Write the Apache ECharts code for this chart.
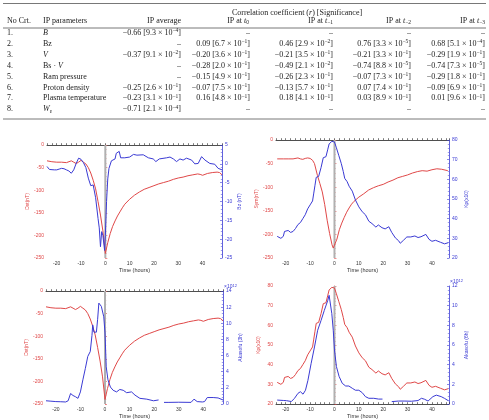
<!DOCTYPE html>
<html><head><meta charset="utf-8">
<script src="https://cdn.jsdelivr.net/npm/echarts@6/dist/echarts.min.js"></script>
<style>html,body{margin:0;padding:0;background:#fff}#c{width:489px;height:420px}</style>
</head><body><div id="c"></div>
<script>
// ---------- table data ----------
const rowNo = ['1.', '2.', '3.', '4.', '5.', '6.', '7.', '8.'];
const ipParams = ['{it|B}', 'Bz', '{it|V}', 'Bs · {it|V}', 'Ram pressure', 'Proton density', 'Plasma temperature', '{it|W}{sub|ε}'];
const rAvg = [-0.66, null, -0.37, null, null, -0.25, -0.23, -0.71];
const pAvg = [9.3e-4, null, 9.1e-2, null, null, 2.6e-1, 3.1e-1, 2.1e-4];
const rT0 = [null, 0.09, -0.20, -0.28, -0.15, -0.07, 0.16, null];
const pT0 = [null, 6.7e-1, 3.6e-1, 2.0e-1, 4.9e-1, 7.5e-1, 4.8e-1, null];
const rT1 = [null, 0.46, -0.21, -0.49, -0.26, -0.13, 0.18, null];
const pT1 = [null, 2.9e-2, 3.5e-1, 2.1e-2, 2.3e-1, 5.7e-1, 4.1e-1, null];
const rT2 = [null, 0.76, -0.21, -0.74, -0.07, 0.07, 0.03, null];
const pT2 = [null, 3.3e-5, 3.3e-1, 8.8e-5, 7.3e-1, 7.4e-1, 8.9e-1, null];
const rT3 = [null, 0.68, -0.29, -0.74, -0.29, -0.09, 0.01, null];
const pT3 = [null, 5.1e-4, 1.9e-1, 7.3e-5, 1.8e-1, 6.9e-1, 9.6e-1, null];

// ---------- chart data [time (hours), value] ----------
const eventTime = 0;
const dst = [[-24,-35],[-22,-37],[-20,-38],[-18,-38],[-16,-39],[-14,-35],[-13,-38],[-12,-41],[-11,-38],[-10,-34],[-9,-38],[-8,-42],[-7,-50],[-6,-62],[-5,-78],[-4,-97],[-3,-125],[-2,-155],[-1,-190],[0,-240],[1,-216],[2,-196],[3,-180],[4,-168],[5,-157],[6,-148],[7,-139],[8,-131],[10,-120],[12,-111],[14,-104],[16,-98],[18,-94],[20,-90],[22,-86],[24,-83],[26,-80],[28,-76],[30,-73],[32,-71],[34,-68],[36,-66],[38,-64],[39,-65],[40,-67],[42,-63],[44,-61],[46,-60],[47,-61],[48,-66]];
const bz = [[-24,-0.7],[-23,-1.5],[-21,-1.6],[-20,-1.6],[-19,-1.4],[-18,-1.2],[-17,-1.3],[-16,-1.6],[-15,-1.9],[-14,-2.5],[-13,-1.6],[-12,0.1],[-11,1.5],[-10,1.2],[-9,0.3],[-8,-1.0],[-7,-3.8],[-6,-5.8],[-5,-5.6],[-4,-9.0],[-3,-14.5],[-2.5,-17],[-2,-22],[-1.5,-18],[-1,-19],[-0.3,-23],[0,-19],[0.5,-10],[1,-4],[1.5,-1.2],[2,-1.0],[2.5,0.8],[4,1.3],[4.5,2.8],[5,3.3],[5.7,3.3],[6.3,1.6],[8,1.6],[10,1.8],[11.6,2.5],[13,2.3],[15.6,2.4],[17.7,1.6],[19.7,1.3],[20.8,0.6],[22.2,1.3],[25.2,1.6],[26.6,1.8],[28,1.3],[29.3,0.6],[30.7,1.3],[32,1.0],[33.4,1.5],[35.5,1.0],[36.8,0],[38.2,0.1],[39.6,1.9],[41,1.0],[43,0.1],[45,-0.1],[46.4,-1.2],[48,-1.6]];
const sym = [[-23.5,-40],[-21,-40],[-19,-40],[-17,-40],[-15,-38],[-14,-40],[-13,-41],[-12,-39],[-11,-38],[-10,-39],[-9,-43],[-8.2,-50],[-7,-75],[-6,-92],[-5,-110],[-4,-137],[-3,-170],[-2,-198],[-1,-222],[-0.5,-229],[0,-226],[1,-210],[2,-190],[3,-176],[4,-164],[5,-153],[6,-144],[7,-136],[8,-130],[10,-121],[12,-114],[14,-106],[16,-101],[18,-97],[20,-94],[22,-89],[24,-85],[26,-80],[28,-77],[30,-74],[32,-70],[34,-67],[36,-65],[38,-66],[40,-63],[42,-61],[44,-62],[46.5,-65]];
const kp = [[-23.5,31],[-23,30],[-22,30],[-21,31],[-20.5,33.5],[-20,33],[-19,34],[-18,33],[-17,33.5],[-16,35],[-15,37],[-14,38],[-13,40],[-12,42],[-11,45],[-10,47],[-9,49],[-8.5,53],[-8,57],[-7.5,61],[-6.5,61.5],[-5.5,66],[-4.6,71],[-3.5,71.5],[-2.8,75],[-2.2,78],[-1.1,79.3],[0,79],[0.8,76],[1.8,72],[2.8,68],[3.6,64],[4.2,60.5],[5.2,58.8],[6,56.5],[7.3,54],[8.6,49.5],[10,46],[11.4,43.5],[12.7,42],[14.1,38.7],[15.4,37.5],[17,35.7],[18,36.8],[19.5,35.4],[20.8,34.8],[22.3,35.9],[23.5,33],[25,30.2],[26.3,28.8],[27,27.5],[28.3,29],[29.7,30.7],[31.3,30.7],[33,31.2],[34.3,30.4],[35.5,30.8],[37.5,32],[38.8,29.5],[40,28.5],[41.5,29],[43.5,28],[45.2,27.2],[46.7,27.8]];
const eps3h = [[-24,0.4],[-22,0.35],[-20,0.3],[-18,0.28],[-16,0.25],[-15,0.4],[-14,1.3],[-13,1.05],[-12,0.9],[-11,0.7],[-10,1.5],[-9,3.0],[-8,4.4],[-7,5.9],[-6,6.5],[-5.3,8.5],[-5,9.8],[-4.5,8.9],[-3.5,8.9],[-3,10.5],[-2.5,12.5],[-1.5,12.1],[-0.5,10.8],[0,8.8],[0.5,4.6],[1.2,3.0],[2.2,2.1],[3.3,1.7],[4.7,1.5],[6,1.8],[7.4,1.7],[8.8,1.4],[10.8,1.5],[12.2,1.1],[14.2,0.7],[17,0.6],[19.7,0.4],[21.8,0.5],[23,null],[24,0.2],[26,0.2],[30,0.22],[35,0.2],[36.2,0.6],[37.5,0.3],[39.6,0.25],[40.5,0.3],[41.6,0.8],[44,0.8],[46,0.75],[48,0.5]];
const eps6h = [[-23.5,0.4],[-21,0.36],[-19.7,0.34],[-17.7,0.25],[-16.4,0.58],[-15,1.08],[-14,1.25],[-12.9,1.0],[-11.9,1.4],[-10.9,2.4],[-9.6,4.1],[-8.2,5.8],[-6.9,7.5],[-5.5,8.5],[-4.2,9.5],[-2.8,10.5],[-2.2,11.05],[-1.8,10.9],[-1.1,9.2],[-0.5,7.5],[0,5.5],[0.8,3.8],[1.9,2.8],[3.2,2.1],[4.6,1.83],[5.9,1.83],[7.3,1.6],[8.6,1.4],[10,1.4],[11.4,1.15],[12.7,0.75],[14.1,0.58],[16.1,0.58],[18.1,0.5],[19.7,0.5],[21,null],[23.5,0.24],[26.2,0.3],[28.9,0.3],[31.6,0.28],[34.3,0.35],[35.7,0.58],[37,0.48],[38.4,0.3],[40.4,0.75],[41.8,0.9],[43.8,0.75],[45.1,0.58],[46.7,0.34]];

// ---------- styling ----------
const RED = '#e04848', BLUE = '#3a3ad4', INK = '#222', GREY = '#b0b0b0';
const SERIF = '"Liberation Serif", "Times New Roman", serif';
const SANS = '"Liberation Sans", Arial, sans-serif';
const RICH = {
  it: {fontStyle: 'italic', fontSize: 8, fontFamily: SERIF, fill: INK, color: INK, lineHeight: 10},
  sup: {fontSize: 5.5, fontFamily: SERIF, fill: INK, color: INK, verticalAlign: 'top', lineHeight: 5},
  sub: {fontSize: 5.5, fontFamily: SERIF, fill: INK, color: INK, verticalAlign: 'bottom', lineHeight: 5}
};
function fmtR(r) { return (r < 0 ? '−' : '') + Math.abs(r).toFixed(2); }
function cell(r, p) {
  if (r == null) return '–';
  const e = Math.floor(Math.log10(p) + 1e-9);
  const m = (p / Math.pow(10, e)).toFixed(1);
  return fmtR(r) + ' [' + m + ' × 10{sup|−' + (-e) + '}]';
}
function txt(x, y, text, align) {
  return {type: 'text', x: x, y: y, silent: true, style: {
    text: text, fill: INK, fontSize: 8, fontFamily: SERIF, lineHeight: 10,
    align: align, textAlign: align, verticalAlign: 'middle', textVerticalAlign: 'middle', rich: RICH}};
}
function rule(y) {
  return {type: 'line', silent: true, shape: {x1: 3, y1: y, x2: 486, y2: y}, style: {stroke: '#555', lineWidth: 0.8}};
}

const graphics = [rule(3.5), rule(28), rule(119)];
graphics.push(txt(297, 12.5, 'Correlation coefficient ({it|r}) [Significance]', 'center'));
graphics.push(txt(7, 21, 'No Crt.', 'left'));
graphics.push(txt(43, 21, 'IP parameters', 'left'));
graphics.push(txt(181, 21, 'IP average', 'right'));
graphics.push(txt(249, 21, 'IP at {it|t}{sub|0}', 'right'));
graphics.push(txt(333, 21, 'IP at {it|t}{sub|−1}', 'right'));
graphics.push(txt(411, 21, 'IP at {it|t}{sub|−2}', 'right'));
graphics.push(txt(485, 21, 'IP at {it|t}{sub|−3}', 'right'));
const cols = [[181, rAvg, pAvg], [250, rT0, pT0], [333, rT1, pT1], [411, rT2, pT2], [485, rT3, pT3]];
for (let i = 0; i < rowNo.length; i++) {
  const y = 33 + i * 10.9;
  graphics.push(txt(7, y, rowNo[i], 'left'));
  graphics.push(txt(43, y, ipParams[i], 'left'));
  cols.forEach(c => graphics.push(txt(c[0], y, cell(c[1][i], c[2][i]), 'right')));
}
// exponent labels above the Akasofu axes
const expRich = {s: {fontSize: 4, fontFamily: SANS, fill: BLUE, color: BLUE, verticalAlign: 'top', lineHeight: 4}};
graphics.push({type: 'text', x: 224, y: 287, silent: true, style: {text: '×10{s|12}', fill: BLUE, fontSize: 5, fontFamily: SANS, lineHeight: 7, align: 'left', verticalAlign: 'middle', textVerticalAlign: 'middle', rich: expRich}});
graphics.push({type: 'text', x: 450, y: 282, silent: true, style: {text: '×10{s|12}', fill: BLUE, fontSize: 5, fontFamily: SANS, lineHeight: 7, align: 'left', verticalAlign: 'middle', textVerticalAlign: 'middle', rich: expRich}});

function xAxisCfg(g, min, max) {
  return {type: 'value', gridIndex: g, min: min, max: max, interval: 2,
    axisLine: {lineStyle: {color: INK, width: 0.8}},
    axisTick: {inside: true, length: 1.8, lineStyle: {color: INK, width: 0.6}},
    axisLabel: {fontSize: 5, fontFamily: SANS, color: '#333', margin: 3, formatter: v => (v % 10 === 0 ? String(v) : '')},
    splitLine: {show: false},
    name: 'Time (hours)', nameLocation: 'middle', nameGap: 9,
    nameTextStyle: {fontSize: 5.5, fontFamily: SANS, color: '#333'}};
}
function yAxisCfg(g, pos, min, max, interval, color, name) {
  return {type: 'value', gridIndex: g, position: pos, min: min, max: max, interval: interval,
    axisLine: {show: true, lineStyle: {color: color, width: 0.8}},
    axisTick: {show: true, inside: true, length: 2, lineStyle: {color: color, width: 0.6}},
    minorTick: {show: true, splitNumber: 5, length: 1.2, lineStyle: {color: color, width: 0.5}},
    axisLabel: {fontSize: 5, fontFamily: SANS, color: color, margin: 3},
    splitLine: {show: false}, minorSplitLine: {show: false},
    name: name, nameLocation: 'middle', nameRotate: 90, nameGap: 15,
    nameTextStyle: {fontSize: 5, fontFamily: SANS, color: color}};
}
function line(xi, yi, data, color) {
  return {type: 'line', xAxisIndex: xi, yAxisIndex: yi, data: data, showSymbol: false, symbol: 'none',
    connectNulls: false, lineStyle: {color: color, width: 1}, itemStyle: {color: color}, z: 3, silent: true};
}
// grey vertical marker at the event time, spanning the left axis range
function marker(xi, yi, lo, hi) {
  return {type: 'line', xAxisIndex: xi, yAxisIndex: yi, data: [[eventTime, lo], [eventTime, hi]],
    showSymbol: false, symbol: 'none', lineStyle: {color: GREY, width: 2}, itemStyle: {color: GREY}, z: 1, silent: true};
}

const option = {
  animation: false,
  backgroundColor: '#fff',
  graphic: {elements: graphics},
  grid: [
    {left: 47, top: 145, width: 175, height: 113},
    {left: 276, top: 140, width: 173, height: 118},
    {left: 46, top: 291, width: 177, height: 113},
    {left: 276, top: 286, width: 173, height: 118}
  ],
  xAxis: [xAxisCfg(0, -24, 48), xAxisCfg(1, -24, 47), xAxisCfg(2, -24, 48), xAxisCfg(3, -24, 47)],
  yAxis: [
    yAxisCfg(0, 'left', -250, 0, 50, RED, 'Dst(nT)'),
    yAxisCfg(0, 'right', -25, 5, 5, BLUE, 'Bz (nT)'),
    yAxisCfg(1, 'left', -250, 0, 50, RED, 'Sym(nT)'),
    yAxisCfg(1, 'right', 20, 80, 10, BLUE, 'Kp(x10)'),
    yAxisCfg(2, 'left', -250, 0, 50, RED, 'Dst(nT)'),
    yAxisCfg(2, 'right', 0, 14, 2, BLUE, 'Akasofu (3h)'),
    yAxisCfg(3, 'left', 20, 80, 10, RED, 'Kp(x10)'),
    yAxisCfg(3, 'right', 0, 12, 2, BLUE, 'Akasofu (6h)')
  ],
  series: [
    marker(0, 0, -250, 0),
    marker(1, 2, -250, 0),
    marker(2, 4, -250, 0),
    marker(3, 6, 20, 80),
    line(0, 0, dst, RED),
    line(0, 1, bz, BLUE),
    line(1, 2, sym, RED),
    line(1, 3, kp, BLUE),
    line(2, 4, dst, RED),
    line(2, 5, eps3h, BLUE),
    line(3, 6, kp, RED),
    line(3, 7, eps6h, BLUE)
  ]
};
const chart = echarts.init(document.getElementById('c'), null, {renderer: 'canvas'});
chart.setOption(option);
</script></body></html>
